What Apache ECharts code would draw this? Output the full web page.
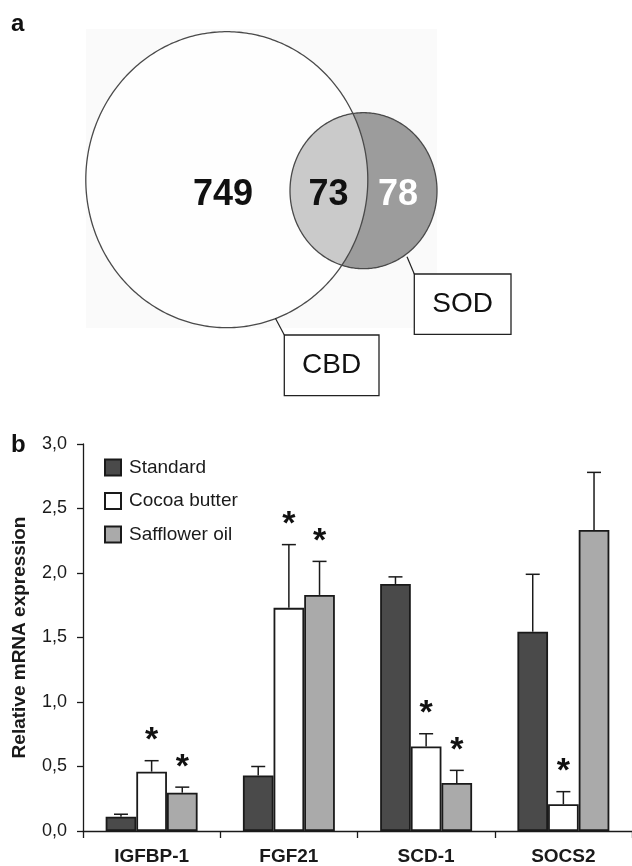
<!DOCTYPE html>
<html><head><meta charset="utf-8">
<script src="https://cdn.jsdelivr.net/npm/echarts@6/dist/echarts.min.js"></script>
<style>html,body{margin:0;padding:0;background:#fff}#c{width:632px;height:866px}</style>
</head><body><div id="c"></div>
<script>
// ---- data ----
const genes = ['IGFBP-1', 'FGF21', 'SCD-1', 'SOCS2'];
const groups = ['Standard', 'Cocoa butter', 'Safflower oil'];
const standard = [0.11, 0.43, 1.915, 1.545];
const standardErr = [0.02, 0.07, 0.055, 0.445];
const cocoa = [0.46, 1.73, 0.656, 0.207];
const cocoaErr = [0.085, 0.49, 0.098, 0.098];
const safflower = [0.297, 1.83, 0.372, 2.333];
const safflowerErr = [0.043, 0.26, 0.098, 0.447];
const standardSig = [0, 0, 0, 0];
const cocoaSig = [1, 1, 1, 1];
const safflowerSig = [1, 1, 1, 0];
const yTicks = ['0,0', '0,5', '1,0', '1,5', '2,0', '2,5', '3,0'];
const vennSets = ['CBD', 'SOD'];
const vennCounts = [749, 73, 78]; // CBD only, both, SOD only
const panelLetters = ['a', 'b'];

// ---- layout / style (not data) ----
const FONT = '"Liberation Sans", Arial, Helvetica, sans-serif';
const vennShape = {
  big: { cx: 226.8, cy: 179.7, rx: 141, ry: 148 },
  small: { cx: 363.5, cy: 190.7, rx: 73.5, ry: 78 },
  labelPos: [[223, 195], [328.5, 195], [398, 195]],
  labelColor: ['#111', '#111', '#fff'],
  boxes: [
    { x: 284.3, y: 335, w: 94.7, h: 60.7, lead: [[275.4, 318.3], [284.3, 335]] },
    { x: 414.3, y: 274, w: 96.7, h: 60.3, lead: [[407, 256.7], [414.3, 274]] }
  ],
  bg: { x: 86, y: 29, w: 351, h: 299 }
};
const GAP = 0.33;

const chart = echarts.init(document.getElementById('c'), null, { renderer: 'canvas' });

function errSeries(idx, vals, errs, sigs) {
  return {
    type: 'custom', xAxisIndex: 0, yAxisIndex: 0, z: 5, silent: true,
    data: vals.map((v, i) => [i, v, errs[i], sigs[i]]),
    renderItem(params, api) {
      const c = api.value(0), v = api.value(1), e = api.value(2), s = api.value(3);
      const base = api.coord([c, v]);
      const top = api.coord([c, v + e]);
      const band = api.size([1, 0])[0];
      const bw = band * (1 - GAP) / 3;
      const x = base[0] + (idx - 1) * bw;
      const st = { stroke: '#1a1a1a', lineWidth: 1.5 };
      const children = [
        { type: 'line', shape: { x1: x, y1: base[1], x2: x, y2: top[1] }, style: st },
        { type: 'line', shape: { x1: x - 7, y1: top[1], x2: x + 7, y2: top[1] }, style: st }
      ];
      if (s) children.push({ type: 'text', x: x, y: top[1] - 20,
        style: { text: '*', font: 'bold 34px ' + FONT, fill: '#111', align: 'center', verticalAlign: 'middle' } });
      return { type: 'group', children };
    }
  };
}

function ellPts(api, e) {
  const pts = [];
  for (let k = 0; k < 360; k++) {
    const t = k * Math.PI / 180;
    pts.push(api.coord([e.cx + e.rx * Math.cos(t), e.cy + e.ry * Math.sin(t)]));
  }
  return pts;
}
function inside(e, x, y) { return ((x - e.cx) / e.rx) ** 2 + ((y - e.cy) / e.ry) ** 2 <= 1; }

const vennSeries = {
  type: 'custom', xAxisIndex: 1, yAxisIndex: 1, silent: true, z: 1,
  data: [[0, 0]],
  renderItem(params, api) {
    const A = vennShape.big, B = vennShape.small;
    const N = 2000;
    const lens = [];
    for (let k = 0; k <= N; k++) {
      const t = 2 * Math.PI * k / N;
      const x = B.cx + B.rx * Math.cos(t), y = B.cy + B.ry * Math.sin(t);
      if (inside(A, x, y)) lens.push(api.coord([x, y]));
    }
    for (let k = 0; k <= N; k++) {
      const t = -Math.PI + 2 * Math.PI * k / N;
      const x = A.cx + A.rx * Math.cos(t), y = A.cy + A.ry * Math.sin(t);
      if (inside(B, x, y)) lens.push(api.coord([x, y]));
    }
    const bg0 = api.coord([vennShape.bg.x, vennShape.bg.y]);
    const bg1 = api.coord([vennShape.bg.x + vennShape.bg.w, vennShape.bg.y + vennShape.bg.h]);
    const edge = { stroke: '#4a4a4a', lineWidth: 1.3 };
    const ch = [
      { type: 'rect', shape: { x: bg0[0], y: bg0[1], width: bg1[0] - bg0[0], height: bg1[1] - bg0[1] }, style: { fill: '#fafafa' } },
      { type: 'polygon', shape: { points: ellPts(api, A) }, style: { fill: '#fefefe' } },
      { type: 'polygon', shape: { points: ellPts(api, B) }, style: { fill: '#9c9c9c' } },
      { type: 'polygon', shape: { points: lens }, style: { fill: '#cacaca' } },
      { type: 'polygon', shape: { points: ellPts(api, A) }, style: Object.assign({ fill: null }, edge) },
      { type: 'polygon', shape: { points: ellPts(api, B) }, style: Object.assign({ fill: null }, edge) }
    ];
    vennCounts.forEach((n, i) => {
      const p = api.coord(vennShape.labelPos[i]);
      ch.push({ type: 'text', x: p[0], y: p[1], style: { text: String(n), font: 'bold 36px ' + FONT,
        fill: vennShape.labelColor[i], align: 'center', verticalAlign: 'middle' } });
    });
    vennSets.forEach((name, i) => {
      const b = vennShape.boxes[i];
      const l0 = api.coord(b.lead[0]), l1 = api.coord(b.lead[1]);
      ch.push({ type: 'line', shape: { x1: l0[0], y1: l0[1], x2: l1[0], y2: l1[1] }, style: { stroke: '#222', lineWidth: 1.2 } });
      const p0 = api.coord([b.x, b.y]), p1 = api.coord([b.x + b.w, b.y + b.h]);
      ch.push({ type: 'rect', shape: { x: p0[0], y: p0[1], width: p1[0] - p0[0], height: p1[1] - p0[1] },
        style: { fill: '#fff', stroke: '#222', lineWidth: 1.3 } });
      ch.push({ type: 'text', x: (p0[0] + p1[0]) / 2, y: (p0[1] + p1[1]) / 2,
        style: { text: name, font: '28px ' + FONT, fill: '#111', align: 'center', verticalAlign: 'middle' } });
    });
    return { type: 'group', children: ch };
  }
};

const barStyle = (color) => ({ color: color, borderColor: '#1a1a1a', borderWidth: 1.8 });

chart.setOption({
  animation: false,
  backgroundColor: '#fff',
  textStyle: { fontFamily: FONT },
  title: [
    { text: panelLetters[0], left: 11, top: 12, padding: 0, textStyle: { fontSize: 24, fontWeight: 'bold', color: '#111', fontFamily: FONT } },
    { text: panelLetters[1], left: 11, top: 433, padding: 0, textStyle: { fontSize: 24, fontWeight: 'bold', color: '#111', fontFamily: FONT } }
  ],
  legend: {
    orient: 'vertical', left: 104, top: 458, itemWidth: 16, itemHeight: 16, itemGap: 14.5,
    icon: 'rect', padding: 0, data: groups,
    textStyle: { fontSize: 19, color: '#1a1a1a', fontFamily: FONT, padding: [0, 0, 0, 3] }
  },
  grid: [
    { left: 83, top: 444, width: 550, height: 387 },
    { left: 0, top: 0, width: 632, height: 420 }
  ],
  xAxis: [
    { type: 'category', gridIndex: 0, data: genes,
      axisLine: { lineStyle: { color: '#1a1a1a', width: 1.3 } },
      axisTick: { show: true, length: 7, alignWithLabel: false, lineStyle: { color: '#1a1a1a', width: 1.3 } },
      axisLabel: { fontSize: 19, fontWeight: 'bold', color: '#1a1a1a', margin: 16, fontFamily: FONT } },
    { type: 'value', gridIndex: 1, min: 0, max: 632, show: false }
  ],
  yAxis: [
    { type: 'value', gridIndex: 0, min: 0, max: 3, interval: 0.5,
      name: 'Relative mRNA expression', nameLocation: 'middle', nameGap: 54,
      nameTextStyle: { fontSize: 19, fontWeight: 'bold', color: '#1a1a1a', fontFamily: FONT },
      splitLine: { show: false },
      axisLine: { show: true, lineStyle: { color: '#1a1a1a', width: 1.3 } },
      axisTick: { show: true, length: 6, lineStyle: { color: '#1a1a1a', width: 1.3 } },
      axisLabel: { fontSize: 18, color: '#1a1a1a', margin: 16, fontFamily: FONT,
        formatter: (v) => yTicks[Math.round(v / 0.5)] } },
    { type: 'value', gridIndex: 1, min: 0, max: 420, inverse: true, show: false }
  ],
  series: [
    vennSeries,
    { name: groups[0], type: 'bar', data: standard, itemStyle: barStyle('#4a4a4a'), barGap: '0%', barCategoryGap: '33%' },
    { name: groups[1], type: 'bar', data: cocoa, itemStyle: barStyle('#ffffff'), barGap: '0%', barCategoryGap: '33%' },
    { name: groups[2], type: 'bar', data: safflower, itemStyle: barStyle('#aaaaaa'), barGap: '0%', barCategoryGap: '33%' },
    errSeries(0, standard, standardErr, standardSig),
    errSeries(1, cocoa, cocoaErr, cocoaSig),
    errSeries(2, safflower, safflowerErr, safflowerSig)
  ]
});
</script></body></html>
